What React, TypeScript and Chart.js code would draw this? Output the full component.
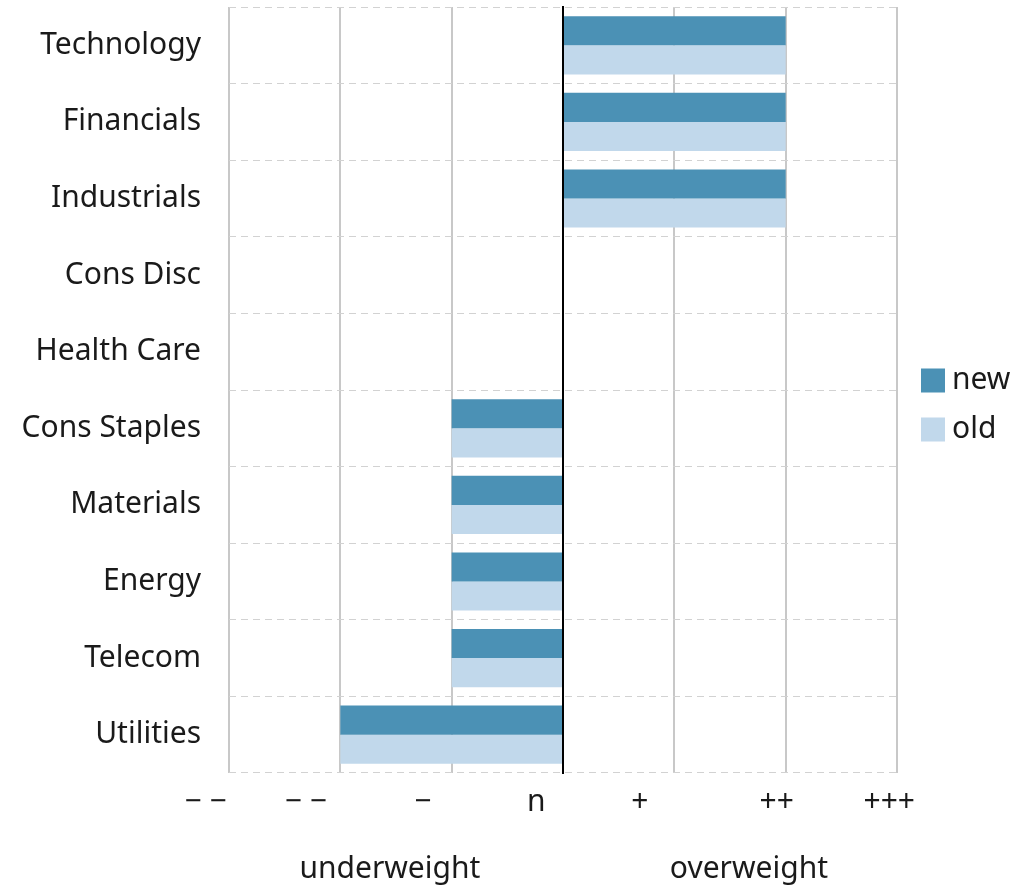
import React, { useEffect, useRef } from "react";
import { Chart, registerables } from "chart.js";

Chart.register(...registerables);

const categories = [
  "Technology",
  "Financials",
  "Industrials",
  "Cons Disc",
  "Health Care",
  "Cons Staples",
  "Materials",
  "Energy",
  "Telecom",
  "Utilities",
];
const newValues = [2, 2, 2, 0, 0, -1, -1, -1, -1, -2];
const oldValues = [2, 2, 2, 0, 0, -1, -1, -1, -1, -2];
const tickLabels = ["− −", "− −", "−", "n", "+", "++", "+++"];
const tickLabelAt = [-3.21, -2.31, -1.26, -0.24, 0.69, 1.92, 2.93];
const axisTitles = ["underweight", "overweight"];
const axisTitleAt = [-1.555, 1.67];

const FONT = "'Noto Sans', 'DejaVu Sans', sans-serif";
const TEXT = "#1a1a1a";

export default function App() {
  const ref = useRef<HTMLCanvasElement | null>(null);
  useEffect(() => {
    document.body.style.margin = "0";
    const canvas = ref.current;
    if (!canvas) return;
    const overlay = {
      id: "overlay",
      afterDatasetsDraw(chart: any) {
        const { ctx, chartArea, scales } = chart;
        const x = scales.x;
        ctx.save();
        const zx = x.getPixelForValue(0);
        ctx.strokeStyle = "#000";
        ctx.lineWidth = 2;
        ctx.beginPath();
        ctx.moveTo(zx, chartArea.top - 1);
        ctx.lineTo(zx, chartArea.bottom + 1);
        ctx.stroke();
        ctx.fillStyle = TEXT;
        ctx.font = `30px ${FONT}`;
        ctx.textAlign = "center";
        ctx.textBaseline = "alphabetic";
        tickLabels.forEach((t, i) => {
          ctx.fillText(t, x.getPixelForValue(tickLabelAt[i]), chartArea.bottom + 38);
        });
        axisTitles.forEach((t, i) => {
          ctx.fillText(t, x.getPixelForValue(axisTitleAt[i]), chartArea.bottom + 105);
        });
        // legend
        const ds = chart.data.datasets;
        const lx = chartArea.right + 24;
        const midY = (chartArea.top + chartArea.bottom) / 2 + 15;
        const step = 49;
        ds.forEach((d: any, i: number) => {
          const cy = midY + (i - (ds.length - 1) / 2) * step;
          ctx.fillStyle = d.backgroundColor;
          ctx.fillRect(lx, cy - 12, 24, 24);
          ctx.fillStyle = TEXT;
          ctx.textAlign = "left";
          ctx.textBaseline = "middle";
          ctx.fillText(d.label, lx + 31, cy);
        });
        ctx.restore();
      },
    };
    const chart = new Chart(canvas, {
      type: "bar",
      data: {
        labels: categories,
        datasets: [
          {
            label: "new",
            data: newValues,
            backgroundColor: "#4b91b5",
            categoryPercentage: 0.76,
            barPercentage: 1,
          },
          {
            label: "old",
            data: oldValues,
            backgroundColor: "#c1d8eb",
            categoryPercentage: 0.76,
            barPercentage: 1,
          },
        ],
      },
      options: {
        indexAxis: "y",
        responsive: false,
        animation: false,
        layout: { padding: { top: 7, bottom: 113, left: 0, right: 119 } },
        scales: {
          x: {
            min: -3,
            max: 3,
            ticks: { display: false, stepSize: 1 },
            grid: { color: "#c8c8c8", lineWidth: 2, drawTicks: false },
            border: { display: false },
            afterFit(scale: any) {
              scale.height = 0;
              scale.paddingLeft = 0;
              scale.paddingRight = 0;
            },
          },
          y: {
            ticks: {
              color: TEXT,
              font: { family: FONT, size: 30 },
              padding: 28,
            },
            grid: {
              offset: true,
              color: "#d2d2d2",
              lineWidth: 1,
              drawTicks: false,
            },
            border: { display: false, dash: [7, 5] },
            afterFit(scale: any) {
              scale.width = 229;
              scale.paddingTop = 0;
              scale.paddingBottom = 0;
            },
          },
        },
        plugins: {
          legend: { display: false },
          tooltip: { enabled: false },
        },
      },
      plugins: [overlay],
    });
    return () => chart.destroy();
  }, []);
  return <canvas ref={ref} width={1016} height={886} style={{ display: "block" }} />;
}
